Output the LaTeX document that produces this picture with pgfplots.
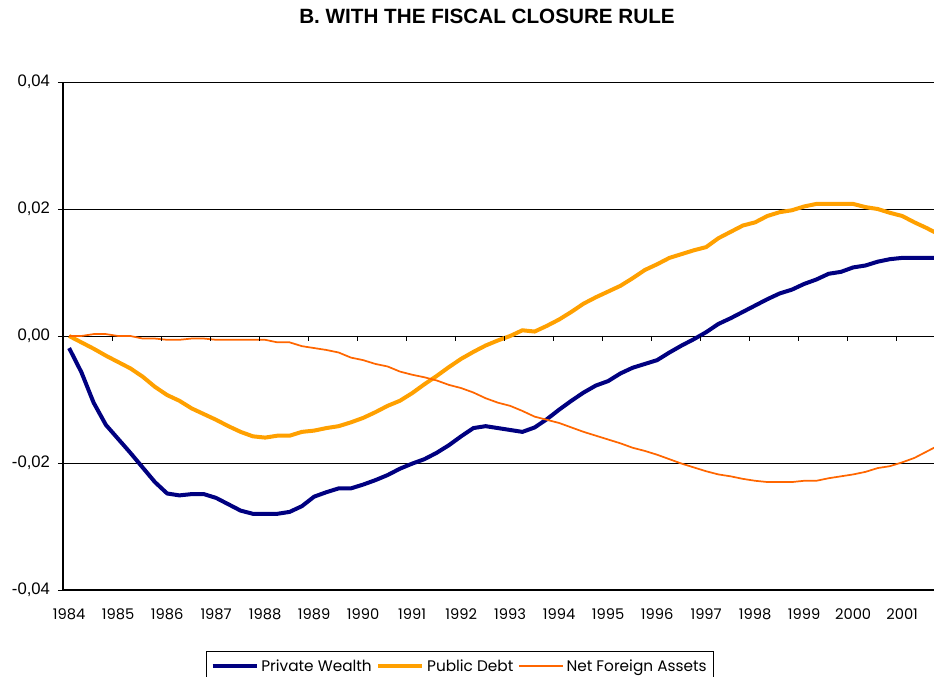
\documentclass[border=0pt]{standalone}
\usepackage{fontspec}
\setmainfont{Liberation Sans}
\newfontfamily\pop{Poppins}
\usepackage{pgfplots}
\usepackage{pgfplotstable}
\pgfplotsset{compat=1.18}

\definecolor{pwnavy}{RGB}{0,0,128}
\definecolor{pdorange}{RGB}{255,160,0}
\definecolor{nfaorange}{RGB}{255,102,0}

% quarterly index from 1984Q1: private wealth, public debt, net foreign assets
\pgfplotstableread{
i  pw      pd      nfa
0  -0.0019  0.0000  0.0000
1  -0.0057 -0.0010  0.0000
2  -0.0105 -0.0020  0.0003
3  -0.0140 -0.0031  0.0003
4  -0.0162 -0.0041  0.0000
5  -0.0184 -0.0051  0.0000
6  -0.0207 -0.0064 -0.0004
7  -0.0230 -0.0080 -0.0004
8  -0.0248 -0.0093 -0.0006
9  -0.0251 -0.0102 -0.0006
10 -0.0249 -0.0114 -0.0004
11 -0.0249 -0.0123 -0.0004
12 -0.0255 -0.0132 -0.0006
13 -0.0265 -0.0142 -0.0006
14 -0.0275 -0.0151 -0.0006
15 -0.0280 -0.0158 -0.0006
16 -0.0280 -0.0160 -0.0006
17 -0.0280 -0.0157 -0.0010
18 -0.0277 -0.0157 -0.0010
19 -0.0268 -0.0151 -0.0016
20 -0.0253 -0.0149 -0.0019
21 -0.0246 -0.0145 -0.0022
22 -0.0240 -0.0142 -0.0026
23 -0.0240 -0.0136 -0.0034
24 -0.0234 -0.0129 -0.0038
25 -0.0227 -0.0120 -0.0044
26 -0.0219 -0.0110 -0.0048
27 -0.0209 -0.0102 -0.0056
28 -0.0201 -0.0090 -0.0061
29 -0.0194 -0.0076 -0.0065
30 -0.0184 -0.0063 -0.0070
31 -0.0172 -0.0049 -0.0077
32 -0.0158 -0.0036 -0.0082
33 -0.0145 -0.0025 -0.0089
34 -0.0142 -0.0015 -0.0098
35 -0.0145 -0.0007 -0.0105
36 -0.0148  0.0000 -0.0110
37 -0.0151  0.0009 -0.0118
38 -0.0144  0.0007 -0.0127
39 -0.0131  0.0016 -0.0132
40 -0.0116  0.0026 -0.0137
41 -0.0102  0.0038 -0.0144
42 -0.0089  0.0051 -0.0151
43 -0.0078  0.0061 -0.0157
44 -0.0071  0.0070 -0.0163
45 -0.0059  0.0079 -0.0169
46 -0.0050  0.0091 -0.0176
47 -0.0044  0.0104 -0.0181
48 -0.0038  0.0113 -0.0187
49 -0.0026  0.0123 -0.0194
50 -0.0015  0.0129 -0.0201
51 -0.0005  0.0135 -0.0207
52  0.0006  0.0140 -0.0213
53  0.0019  0.0154 -0.0218
54  0.0028  0.0164 -0.0221
55  0.0038  0.0174 -0.0225
56  0.0048  0.0179 -0.0228
57  0.0058  0.0189 -0.0230
58  0.0067  0.0195 -0.0230
59  0.0073  0.0198 -0.0230
60  0.0082  0.0204 -0.0228
61  0.0089  0.0208 -0.0228
62  0.0098  0.0208 -0.0224
63  0.0101  0.0208 -0.0221
64  0.0108  0.0208 -0.0218
65  0.0111  0.0203 -0.0214
66  0.0117  0.0200 -0.0208
67  0.0121  0.0194 -0.0205
68  0.0123  0.0189 -0.0199
69  0.0123  0.0179 -0.0192
70  0.0123  0.0170 -0.0182
71  0.0123  0.0160 -0.0172
}\data

\begin{document}
\begin{tikzpicture}
\useasboundingbox (-47.25pt,-65.25pt) rectangle (653.25pt,442.5pt);
\clip (-47.25pt,-65.25pt) rectangle (653.25pt,442.5pt);
\begin{axis}[
    at={(0,0)}, anchor=south west,
    width=653.25pt, height=381pt, scale only axis,
    xmin=-0.5, xmax=70.6,
    ymin=-0.04, ymax=0.04,
    axis x line*=bottom, axis y line*=left,
    axis line style={-, black, line width=1.3pt},
    ytick={-0.04,-0.02,0,0.02,0.04},
    scaled y ticks=false,
    ymajorgrids, grid style={black, line width=0.6pt},
    tick align=outside, major tick length=3.75pt,
    y tick style={black, line width=0.6pt},
    xtick={0,4,...,68},
    xticklabels={1984,1985,1986,1987,1988,1989,1990,1991,1992,1993,1994,1995,1996,1997,1998,1999,2000,2001},
    x tick style={draw=none},
    xticklabel style={font=\pop\fontsize{11}{13}\selectfont, yshift=-7pt},
    yticklabel style={font=\fontsize{12.5}{14}\selectfont, xshift=-2.5pt,
      /pgf/number format/fixed, /pgf/number format/fixed zerofill,
      /pgf/number format/precision=2, /pgf/number format/use comma,
      /pgf/number format/assume math mode=true},
    title={B. WITH THE FISCAL CLOSURE RULE},
    title style={font=\bfseries\fontsize{15.5}{18}\selectfont, at={(0.4868,1)}, anchor=base, yshift=37.5pt},
    legend columns=3,
    legend style={at={(0.4558,-0.1201)}, anchor=north, draw=black, line width=0.6pt,
      font=\pop\fontsize{11.5}{14}\selectfont, inner ysep=4pt,
      /tikz/every even column/.append style={column sep=1.5pt}},
    legend image code/.code={\draw[#1] (0pt,0pt) -- (33pt,0pt);},
  ]
  \addplot[pwnavy, line width=3pt] table[x=i, y=pw] {\data};
  \addlegendentry{Private Wealth}
  \addplot[pdorange, line width=3pt] table[x=i, y=pd] {\data};
  \addlegendentry{Public Debt}
  \addplot[nfaorange, line width=1.3pt] table[x=i, y=nfa] {\data};
  \addlegendentry{Net Foreign Assets}

  % tick marks between years on the zero line
  \pgfplotsinvokeforeach{3.5,7.5,...,67.5}{
    \draw[black, line width=0.6pt] (axis cs:#1,0) -- ++(0pt,-3.75pt);
  }
\end{axis}
\end{tikzpicture}
\end{document}
